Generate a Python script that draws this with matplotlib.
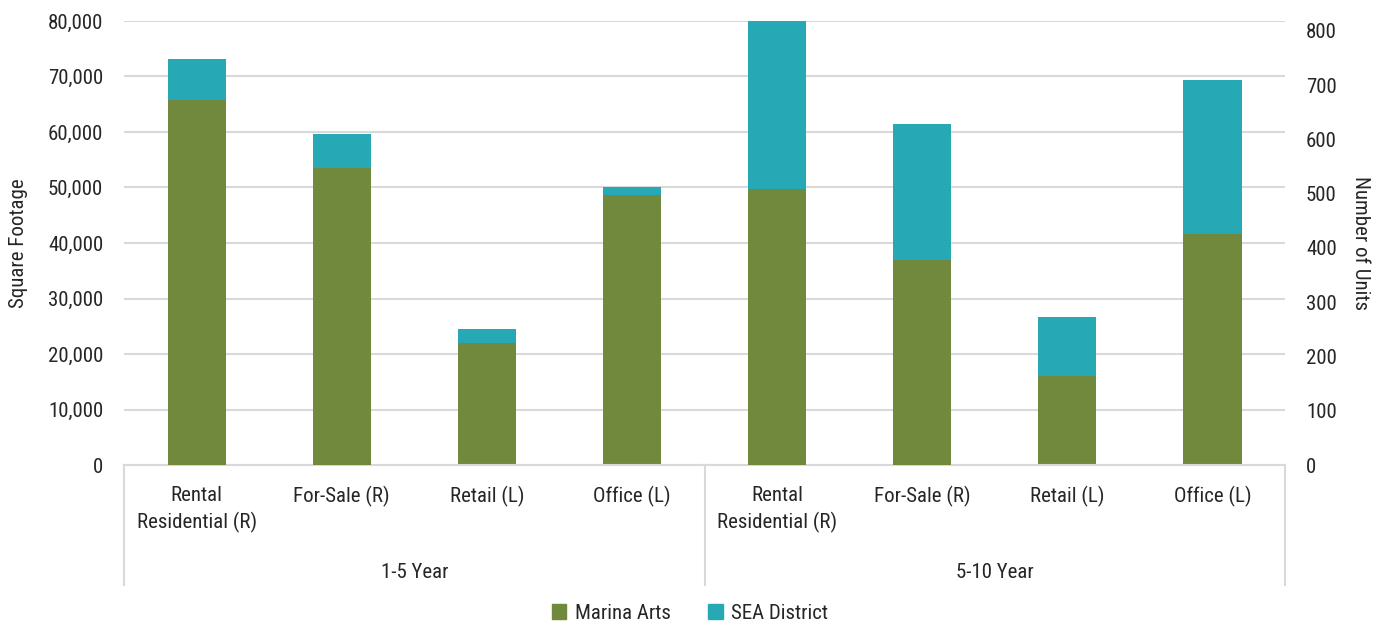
import matplotlib.pyplot as plt
from matplotlib import font_manager
from matplotlib.patches import Patch
from matplotlib.ticker import FuncFormatter

# pick a narrow font if one is installed
installed = {f.name for f in font_manager.fontManager.ttflist}
fam = 'DejaVu Sans'
for cand in ['Roboto Condensed', 'Liberation Sans Narrow', 'DejaVu Sans Condensed', 'Roboto']:
    if cand in installed:
        fam = cand
        break
plt.rcParams['font.family'] = [fam, 'DejaVu Sans']
fs = 15 if 'Narrow' in fam or 'Condensed' in fam else 13.5

# data
categories = ['Rental\nResidential (R)', 'For-Sale (R)', 'Retail (L)', 'Office (L)',
              'Rental\nResidential (R)', 'For-Sale (R)', 'Retail (L)', 'Office (L)']
groups = ['1-5 Year', '5-10 Year']
axis_side = ['R', 'R', 'L', 'L', 'R', 'R', 'L', 'L']
marina_arts = [673, 547, 22000, 48600, 509, 378, 16000, 41600]
sea_district = [75, 63, 2500, 1500, 309, 251, 10700, 27800]

green = '#70893c'
teal = '#27a9b5'
grid_col = '#d9d9d9'
txt = '#262626'

fig = plt.figure(figsize=(13.8, 6.23), dpi=100)
ax = fig.add_axes([0.0899, 0.2536, 0.8413, 0.7127])
ax2 = ax.twinx()

w = 0.4
for i in range(len(categories)):
    a = ax2 if axis_side[i] == 'R' else ax
    a.bar(i, marina_arts[i], width=w, color=green, zorder=3)
    a.bar(i, sea_district[i], width=w, bottom=marina_arts[i], color=teal, zorder=3)

ax.set_xlim(-0.5, len(categories) - 0.5)
ax.set_ylim(0, 80000)
ax.set_yticks(range(0, 80001, 10000))
ax.yaxis.set_major_formatter(FuncFormatter(lambda v, p: f'{int(v):,}'))
ax2.set_ylim(0, 818)
ax2.set_yticks(range(0, 801, 100))

ax.grid(axis='y', color=grid_col, linewidth=1.5, zorder=0)
ax.set_axisbelow(True)
for a in (ax, ax2):
    for s in a.spines.values():
        s.set_visible(False)
    a.tick_params(length=0, labelsize=fs, labelcolor=txt)
ax.tick_params(axis='y', pad=15)
ax2.tick_params(axis='y', pad=15)
ax.set_xticks([])

ax.set_ylabel('Square Footage', fontsize=fs, color=txt, va='center')
ax.yaxis.set_label_coords(-0.0913, 0.5)
ax2.set_ylabel('Number of Units', fontsize=fs, rotation=270, color=txt, va='center')
ax2.yaxis.set_label_coords(1.0646, 0.5)

# multi-level category axis
ax.plot([-0.5, 7.5], [0, 0], color=grid_col, linewidth=1.5, clip_on=False, zorder=4,
        transform=ax.get_xaxis_transform())
for xs in [-0.5, 3.5, 7.5]:
    ax.plot([xs, xs], [0, -0.27], color=grid_col, linewidth=1.5, clip_on=False,
            transform=ax.get_xaxis_transform())
for i, c in enumerate(categories):
    ax.text(i, -0.047, c, ha='center', va='top', fontsize=fs, linespacing=1.45,
            color=txt, transform=ax.get_xaxis_transform())
for j, g in enumerate(groups):
    ax.text(1.5 + 4 * j, -0.242, g, ha='center', va='center', fontsize=fs,
            color=txt, transform=ax.get_xaxis_transform())

handles = [Patch(color=green, label='Marina Arts'), Patch(color=teal, label='SEA District')]
fig.legend(handles=handles, loc='lower center', bbox_to_anchor=(0.5, -0.03), ncol=2,
           frameon=False, fontsize=fs, handlelength=0.7, handleheight=0.7,
           handletextpad=0.4, columnspacing=1.8, labelcolor=txt)

fig.savefig('out.png', dpi=100)
